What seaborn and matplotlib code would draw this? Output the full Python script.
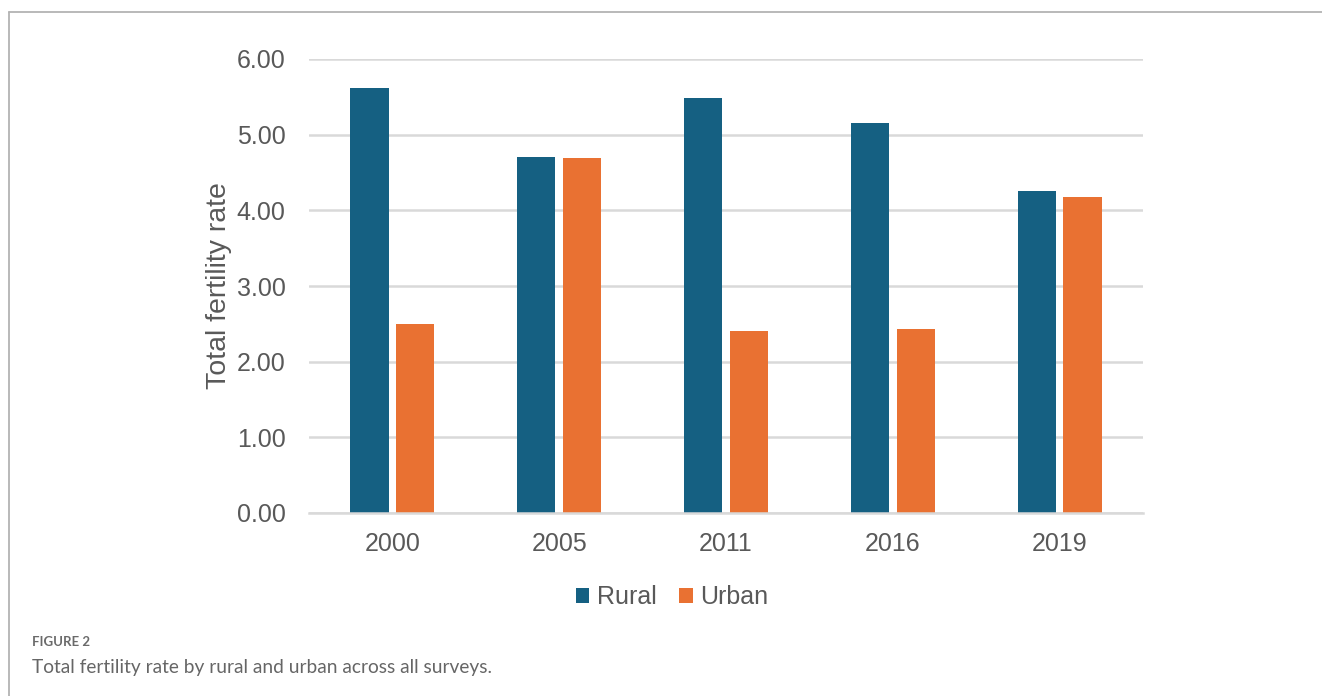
import matplotlib
matplotlib.use("Agg")
import matplotlib.pyplot as plt
from matplotlib.lines import Line2D
from matplotlib.patches import Patch
import seaborn as sns
import pandas as pd

years = ["2000", "2005", "2011", "2016", "2019"]
rural = [5.62, 4.71, 5.48, 5.15, 4.26]
urban = [2.50, 4.69, 2.41, 2.43, 4.18]
series = ["Rural", "Urban"]
colors = {"Rural": "#156082", "Urban": "#E97132"}
yticks = [0, 1, 2, 3, 4, 5, 6]

df = pd.DataFrame({
    "Year": years * 2,
    "Rate": rural + urban,
    "Area": ["Rural"] * len(years) + ["Urban"] * len(years),
})

sns.set_theme(style="white")
plt.rcParams["font.family"] = ["Liberation Sans", "DejaVu Sans"]

fig = plt.figure(figsize=(13.22, 6.96), dpi=100)
ax = fig.add_axes([309 / 1322, 1 - 513 / 696, (1143 - 309) / 1322, (513 - 59) / 696])

sns.barplot(data=df, x="Year", y="Rate", hue="Area", order=years, hue_order=series,
            palette=colors, width=0.55, gap=0.17, ax=ax, legend=False,
            edgecolor="none", saturation=1)

ax.set_xlim(-0.5, len(years) - 0.5)
ax.set_ylim(0, 6)
ax.set_yticks(yticks)
ax.set_yticklabels([f"{v:.2f}" for v in yticks])
ax.yaxis.grid(True, color="#d9d9d9", linewidth=1.8)
ax.set_axisbelow(True)
for s in ["top", "right", "left"]:
    ax.spines[s].set_visible(False)
ax.spines["bottom"].set_color("#d9d9d9")
ax.spines["bottom"].set_linewidth(1.8)
ax.tick_params(axis="both", length=0, labelsize=18, labelcolor="#595959")
ax.tick_params(axis="y", pad=17)
ax.tick_params(axis="x", pad=14)
ax.set_xlabel("")
ax.set_ylabel("Total fertility rate", fontsize=20.5, color="#595959", labelpad=3)

handles = [Patch(facecolor=colors[s], edgecolor="none") for s in series]
fig.legend(handles, series, loc="center", bbox_to_anchor=(672 / 1322, 1 - 597 / 696),
           ncol=2, frameon=False, fontsize=18, handlelength=0.55, handleheight=0.55,
           handletextpad=0.3, columnspacing=0.9, labelcolor="#595959")

# figure border (left and top)
fig.add_artist(Line2D([9 / 1322, 9 / 1322], [0, 1 - 12 / 696], transform=fig.transFigure,
                      color="#b3b3b3", linewidth=1.3))
fig.add_artist(Line2D([9 / 1322, 1], [1 - 12 / 696, 1 - 12 / 696], transform=fig.transFigure,
                      color="#b3b3b3", linewidth=1.3))

fig.text(32 / 1322, 1 - 642 / 696, "FIGURE 2", fontsize=9.5, color="#6a6a6a",
         family=["Lato", "DejaVu Sans"], fontweight="bold", va="center", ha="left")
fig.text(32 / 1322, 1 - 667 / 696, "Total fertility rate by rural and urban across all surveys.",
         fontsize=13.8, color="#666666", family=["Lato", "DejaVu Sans"], va="center", ha="left")

fig.savefig("out.png", dpi=100)
